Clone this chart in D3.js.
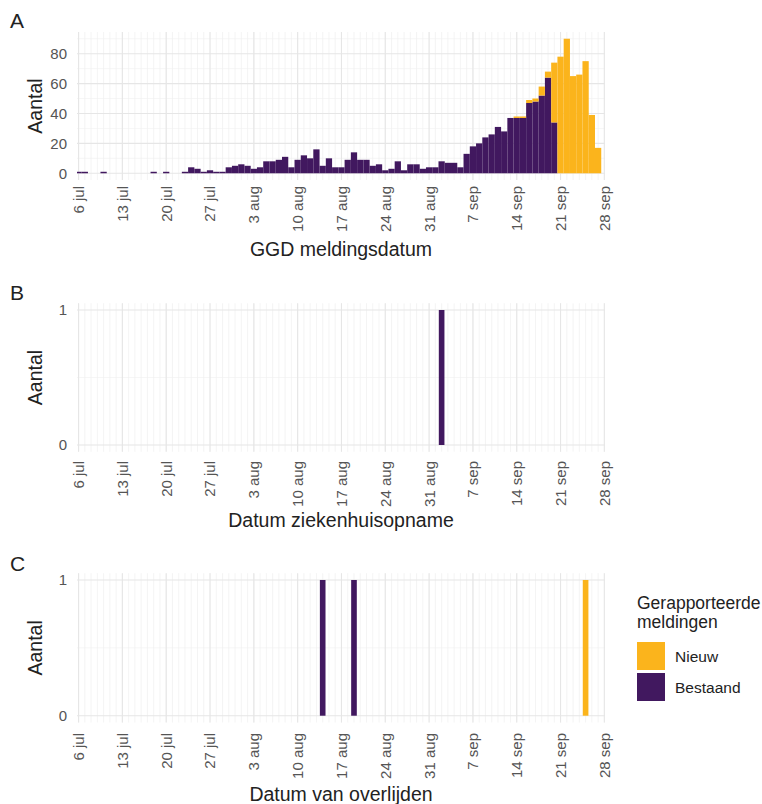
<!DOCTYPE html>
<html><head><meta charset="utf-8">
<script src="https://cdn.jsdelivr.net/npm/d3@7"></script>
<style>body{margin:0;background:#fff} svg{font-family:"Liberation Sans",Arial,sans-serif;display:block}</style>
</head><body><svg id="c" width="762" height="804"></svg>
<script>
// ---------- data ----------
const dagenA = [
 "2020-07-06","2020-07-07","2020-07-08","2020-07-09","2020-07-10","2020-07-11","2020-07-12",
 "2020-07-13","2020-07-14","2020-07-15","2020-07-16","2020-07-17","2020-07-18","2020-07-19",
 "2020-07-20","2020-07-21","2020-07-22","2020-07-23","2020-07-24","2020-07-25","2020-07-26",
 "2020-07-27","2020-07-28","2020-07-29","2020-07-30","2020-07-31","2020-08-01","2020-08-02",
 "2020-08-03","2020-08-04","2020-08-05","2020-08-06","2020-08-07","2020-08-08","2020-08-09",
 "2020-08-10","2020-08-11","2020-08-12","2020-08-13","2020-08-14","2020-08-15","2020-08-16",
 "2020-08-17","2020-08-18","2020-08-19","2020-08-20","2020-08-21","2020-08-22","2020-08-23",
 "2020-08-24","2020-08-25","2020-08-26","2020-08-27","2020-08-28","2020-08-29","2020-08-30",
 "2020-08-31","2020-09-01","2020-09-02","2020-09-03","2020-09-04","2020-09-05","2020-09-06",
 "2020-09-07","2020-09-08","2020-09-09","2020-09-10","2020-09-11","2020-09-12","2020-09-13",
 "2020-09-14","2020-09-15","2020-09-16","2020-09-17","2020-09-18","2020-09-19","2020-09-20",
 "2020-09-21","2020-09-22","2020-09-23","2020-09-24","2020-09-25","2020-09-26","2020-09-27"];
const bestaandA = [
 1,1,0,0,1,0,0, 0,0,0,0,0,1,0, 1,0,0,1,4,3,1, 2,1,1,4,5,6,5,
 3,4,8,8,9,11,4, 9,12,10,16,5,10,4, 4,9,14,9,9,5,6, 2,3,8,2,6,6,3,
 4,4,8,7,7,4,13, 18,20,24,26,31,28,37, 37,37,47,48,52,64,34, 0,0,0,0,0,0,0];
const nieuwA = [
 0,0,0,0,0,0,0, 0,0,0,0,0,0,0, 0,0,0,0,0,0,0, 0,0,0,0,0,0,0,
 0,0,0,0,0,0,0, 0,0,0,0,0,0,0, 0,0,0,0,0,0,0, 0,0,0,0,0,0,0,
 0,0,0,0,0,0,0, 0,0,0,0,0,0,0, 1,1,2,2,6,4,40, 78,90,65,66,75,39,17];

const dagenB = ["2020-09-02"];
const bestaandB = [1];
const nieuwB = [0];

const dagenC = ["2020-08-14","2020-08-19","2020-09-25"];
const bestaandC = [1,1,0];
const nieuwC = [0,0,1];

const xTickDates = ["2020-07-06","2020-07-13","2020-07-20","2020-07-27","2020-08-03","2020-08-10",
 "2020-08-17","2020-08-24","2020-08-31","2020-09-07","2020-09-14","2020-09-21","2020-09-28"];
const xTickLabels = ["6 jul","13 jul","20 jul","27 jul","3 aug","10 aug","17 aug","24 aug",
 "31 aug","7 sep","14 sep","21 sep","28 sep"];
const yTicksA = [0,20,40,60,80];
const yMinorA = [10,30,50,70,90];
const yTicksBC = [0,1];
const yMinorBC = [0.5];

const seriesKeys = ["bestaand","nieuw"];
const legendLabels = {nieuw:"Nieuw", bestaand:"Bestaand"};
const colors = {bestaand:"#41185F", nieuw:"#FBB41C"};

// ---------- drawing ----------
const svg = d3.select("#c");
const parse = d3.utcParse("%Y-%m-%d");
const DAY = 864e5;
const x = d3.scaleUtc()
  .domain([new Date(+parse("2020-07-06") - 0.25*DAY), new Date(+parse("2020-09-28") + 0.1*DAY)])
  .range([77, 605]);
const dailyLines = d3.utcDay.range(parse("2020-07-06"), new Date(+parse("2020-09-28")+1));

function panel(cfg){
  const {dates, best, nieuw, top, bottom, domain, ticks, minor, letter, letterY, title, titleY, labelTop, width, id} = cfg;
  const y = d3.scaleLinear().domain(domain).range([bottom, top]);
  const g = svg.append("g");
  const cp = "clip"+id;
  svg.append("clipPath").attr("id", cp).append("rect")
    .attr("x", x.range()[0]).attr("y", top).attr("width", x.range()[1]-x.range()[0]).attr("height", bottom-top);
  // grid
  g.selectAll(".vmin").data(dailyLines).join("line")
    .attr("x1", d=>x(d)).attr("x2", d=>x(d)).attr("y1", top).attr("y2", bottom)
    .attr("stroke","#ededed").attr("stroke-width",0.6);
  g.selectAll(".hmin").data(minor).join("line")
    .attr("x1", x.range()[0]).attr("x2", x.range()[1]).attr("y1", d=>y(d)).attr("y2", d=>y(d))
    .attr("stroke","#f0f0f0").attr("stroke-width",0.6);
  g.selectAll(".vmaj").data(xTickDates.map(parse)).join("line")
    .attr("x1", d=>x(d)).attr("x2", d=>x(d)).attr("y1", top).attr("y2", bottom)
    .attr("stroke","#e6e6e6").attr("stroke-width",1.1);
  g.selectAll(".hmaj").data(ticks).join("line")
    .attr("x1", x.range()[0]).attr("x2", x.range()[1]).attr("y1", d=>y(d)).attr("y2", d=>y(d))
    .attr("stroke","#e6e6e6").attr("stroke-width",1.1);
  // bars
  const rows = dates.map((d,i)=>({date:parse(d), bestaand:best[i], nieuw:nieuw[i]}));
  const stacked = d3.stack().keys(seriesKeys)(rows);
  const bw = width*DAY;
  g.append("g").attr("clip-path","url(#"+cp+")")
    .selectAll("g").data(stacked).join("g").attr("fill", s=>colors[s.key])
    .selectAll("rect").data(s=>s.filter(p=>p[1]-p[0]>0)).join("rect")
    .attr("x", p=>x(new Date(+p.data.date - bw/2)))
    .attr("width", p=>x(new Date(+p.data.date + bw/2)) - x(new Date(+p.data.date - bw/2)))
    .attr("y", p=>y(p[1])).attr("height", p=>y(p[0])-y(p[1]));
  // y labels
  g.selectAll(".yl").data(ticks).join("text")
    .attr("x", 67).attr("y", d=>y(d)).attr("dy","0.36em").attr("text-anchor","end")
    .attr("font-size","15px").attr("fill","#555").text(d=>d);
  // x labels
  g.selectAll(".xl").data(xTickDates).join("text")
    .attr("transform", (d)=>`translate(${x(parse(d))},${labelTop}) rotate(-90)`)
    .attr("dy","0.36em").attr("text-anchor","end")
    .attr("font-size","15px").attr("fill","#555").text((d,i)=>xTickLabels[i]);
  // titles
  g.append("text").attr("x", (x.range()[0]+x.range()[1])/2).attr("y", titleY)
    .attr("text-anchor","middle").attr("font-size","19.5px").attr("fill","#222").text(title);
  g.append("text").attr("transform", `translate(35,${(top+bottom)/2}) rotate(-90)`)
    .attr("dy","0.36em").attr("text-anchor","middle").attr("font-size","19.5px").attr("fill","#222").text("Aantal");
  g.append("text").attr("x", 10).attr("y", letterY).attr("font-size","21px").attr("fill","#222").text(letter);
}

panel({id:"A", dates:dagenA, best:bestaandA, nieuw:nieuwA, top:32, bottom:180, domain:[-4.5,94.5],
  ticks:yTicksA, minor:yMinorA, letter:"A", letterY:28, title:"GGD meldingsdatum", titleY:256, labelTop:186, width:1});
panel({id:"B", dates:dagenB, best:bestaandB, nieuw:nieuwB, top:303.25, bottom:451.75, domain:[-0.05,1.05],
  ticks:yTicksBC, minor:yMinorBC, letter:"B", letterY:300, title:"Datum ziekenhuisopname", titleY:527, labelTop:461, width:0.9});
panel({id:"C", dates:dagenC, best:bestaandC, nieuw:nieuwC, top:573.2, bottom:722.5, domain:[-0.05,1.05],
  ticks:yTicksBC, minor:yMinorBC, letter:"C", letterY:571, title:"Datum van overlijden", titleY:801, labelTop:733, width:0.9});

// legend
const lg = svg.append("g");
lg.append("text").attr("x",637).attr("y",609).attr("font-size","17.5px").attr("fill","#222").text("Gerapporteerde");
lg.append("text").attr("x",637).attr("y",628).attr("font-size","17.5px").attr("fill","#222").text("meldingen");
["nieuw","bestaand"].forEach((k,i)=>{
  lg.append("rect").attr("x",637).attr("y",642+i*31).attr("width",28).attr("height",28).attr("fill",colors[k]);
  lg.append("text").attr("x",675).attr("y",656+i*31).attr("dy","0.36em").attr("font-size","15.5px").attr("fill","#222").text(legendLabels[k]);
});
</script></body></html>
